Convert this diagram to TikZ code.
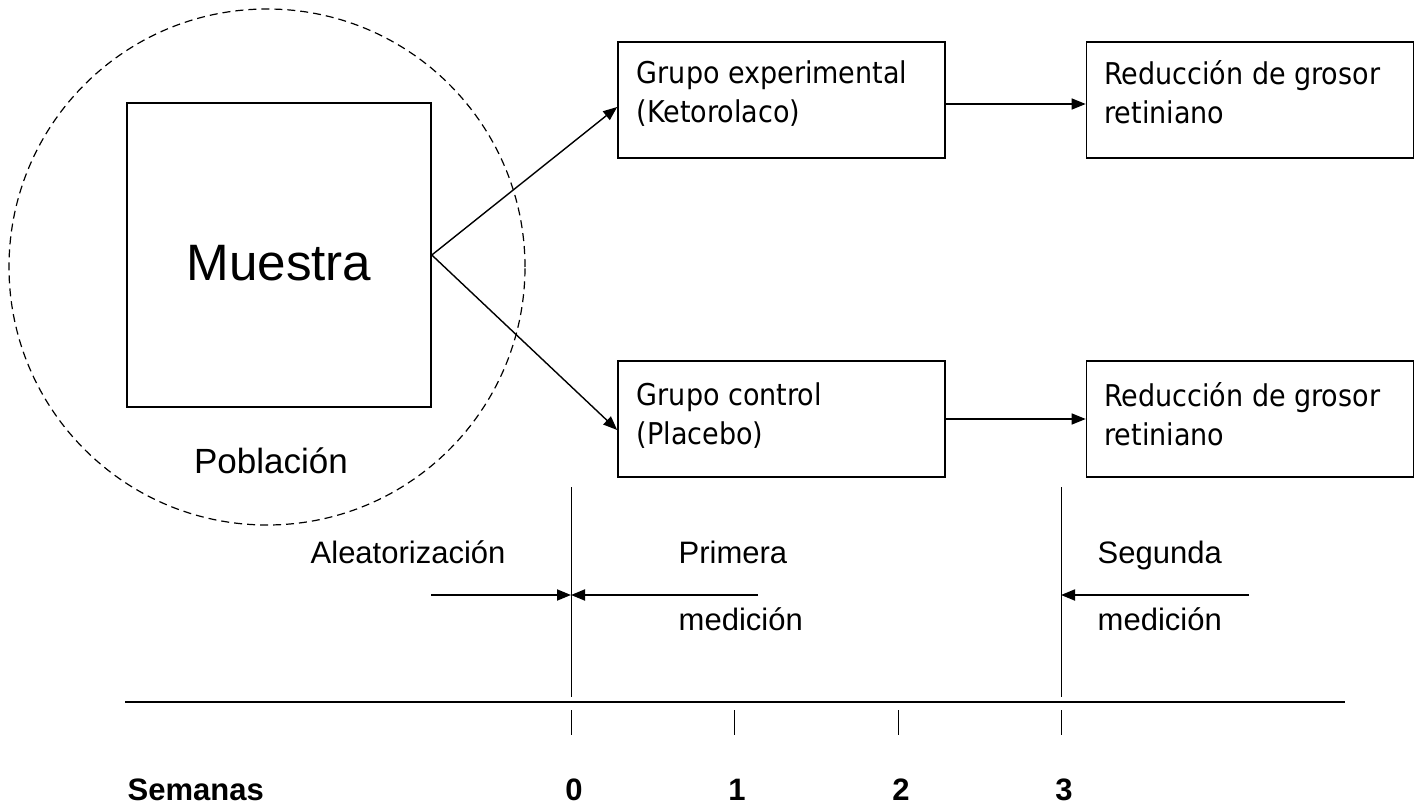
\documentclass[tikz,border=0pt]{standalone}
\usepackage{fontspec}
\setmainfont{Liberation Sans}
\newfontfamily\cajafont{DejaVu Sans Condensed}
\usetikzlibrary{arrows.meta,positioning}

\begin{document}
\begin{tikzpicture}[x=0.5pt,y=-0.5pt,line width=0.7pt,>={Triangle[length=7pt,width=5.5pt]},
        caja/.style={draw,line width=0.8pt,minimum width=163.5pt,minimum height=58pt},
        txt/.style={anchor=north west,inner sep=0pt,align=left,font=\cajafont\fontsize{15}{19.5}\selectfont},
        lbl/.style={anchor=base west,inner sep=0pt,font=\fontsize{15.5}{18}\selectfont},
        num/.style={anchor=base,inner sep=0pt,font=\bfseries\fontsize{15.5}{18}\selectfont}]
    \useasboundingbox (0,0) rectangle (1420,808);
    % poblacion y muestra
    \draw[dash pattern=on 4pt off 2.5pt,line width=0.6pt] (267,267) circle[radius=129pt];
    \node[draw,line width=0.8pt,minimum width=152pt,minimum height=152pt,text height=25.5pt,text depth=0pt,
          font=\fontsize{25.6}{30}\selectfont] (muestra) at (279,255) {Muestra};
    \node[anchor=base,inner sep=0pt,font=\fontsize{17.5}{20}\selectfont] (pob) at (271,473) {Población};
    % grupos
    \node[caja] (gexp) at (781.5,100) {};
    \node[caja] (rexp) at (1250,100) {};
    \node[caja] (gcon) at (781.5,419) {};
    \node[caja] (rcon) at (1250,419) {};
    \node[txt] (gexp t) at ([shift={(19,19)}]gexp.north west) {Grupo experimental\\(Ketorolaco)};
    \node[txt] (rexp t) at ([shift={(18,19)}]rexp.north west) {Reducción de grosor\\retiniano};
    \node[txt] (gcon t) at ([shift={(19,22)}]gcon.north west) {Grupo control\\(Placebo)};
    \node[txt] (rcon t) at ([shift={(18,22)}]rcon.north west) {Reducción de grosor\\retiniano};
    \path[->]
        (muestra.east) edge ([yshift=-3.5pt]gexp.west)
                       edge ([yshift=-5.5pt]gcon.west)
        ([yshift=-2pt]gexp.east) edge ([yshift=-2pt]rexp.west)
        (gcon.east) edge (rcon.west);
    % linea de tiempo
    \coordinate (eje0) at (125,702);
    \coordinate (eje1) at (1345,702);
    \draw[line width=0.8pt] (eje0) -- (eje1);
    \coordinate (m0) at (571,487);
    \coordinate (m0b) at (571,697);
    \coordinate (m3) at (1061,487);
    \coordinate (m3b) at (1061,697);
    \draw[line width=0.5pt] (m0) -- (m0b) (m3) -- (m3b);
    \foreach \x/\n in {571/0,734/1,898/2,1061/3} {
        \draw[line width=0.5pt] (\x,710) -- (\x,735);
        \node[num] (w\n) at (\x+3,800) {\n};
    }
    \coordinate (alea) at (431,595);
    \coordinate (p0) at (571,595);
    \coordinate (prim) at (758,595);
    \coordinate (seg) at (1249,595);
    \coordinate (p3) at (1061,595);
    \draw[->,line width=0.9pt] (alea) -- (p0);
    \draw[->,line width=0.9pt] (prim) -- (p0);
    \draw[->,line width=0.9pt] (seg) -- (p3);
    \node[lbl] (alea t) at (310,563) {Aleatorización};
    \node[lbl] (prim t) at (678,563) {Primera};
    \node[lbl] (prim m) at (678,630) {medición};
    \node[lbl] (seg t) at (1097,563) {Segunda};
    \node[lbl] (seg m) at (1097,630) {medición};
    \node[lbl,font=\bfseries\fontsize{15.5}{18}\selectfont] (sem) at (127,800) {Semanas};
\end{tikzpicture}
\end{document}
